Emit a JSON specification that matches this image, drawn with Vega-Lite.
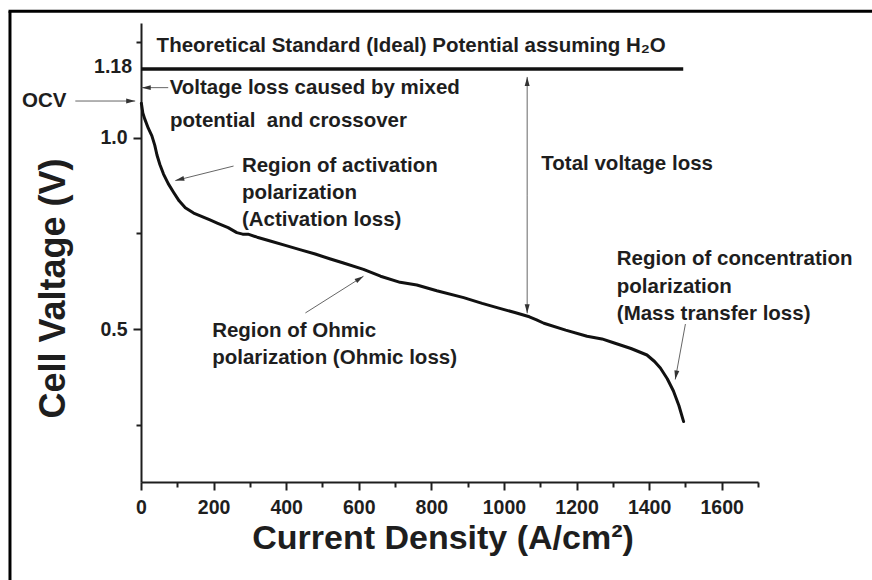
{
  "$schema": "https://vega.github.io/schema/vega-lite/v6.json",
  "width": 617,
  "height": 459,
  "autosize": {"type": "none"},
  "padding": {"left": 141, "top": 23, "right": 114, "bottom": 98},
  "background": "white",
  "config": {
    "view": {"stroke": null},
    "font": "Liberation Sans",
    "axis": {
      "grid": false,
      "domainColor": "#1e1e1e",
      "domainWidth": 2,
      "tickColor": "#1e1e1e",
      "tickWidth": 2,
      "labelFont": "Liberation Sans",
      "labelFontWeight": "bold",
      "labelColor": "#1e1e1e",
      "labelFontSize": 19.5,
      "titleFont": "Liberation Sans",
      "titleFontWeight": "bold",
      "titleColor": "#1e1e1e",
      "labelOverlap": false,
      "labelFlush": false
    }
  },
  "resolve": {"axis": {"x": "independent", "y": "independent"}},
  "datasets": {
    "curve": [
      {"j": 1, "v": 1.09}, {"j": 5, "v": 1.065}, {"j": 10, "v": 1.05}, {"j": 20, "v": 1.025},
      {"j": 30, "v": 1.005}, {"j": 38, "v": 0.98}, {"j": 44, "v": 0.955}, {"j": 52, "v": 0.93},
      {"j": 62, "v": 0.905}, {"j": 75, "v": 0.88}, {"j": 90, "v": 0.857}, {"j": 105, "v": 0.835},
      {"j": 122, "v": 0.817}, {"j": 145, "v": 0.803}, {"j": 165, "v": 0.795}, {"j": 190, "v": 0.785},
      {"j": 210, "v": 0.777}, {"j": 240, "v": 0.765}, {"j": 264, "v": 0.752}, {"j": 280, "v": 0.748},
      {"j": 295, "v": 0.748}, {"j": 320, "v": 0.74}, {"j": 356, "v": 0.73}, {"j": 400, "v": 0.718},
      {"j": 440, "v": 0.707}, {"j": 480, "v": 0.696}, {"j": 522, "v": 0.683}, {"j": 560, "v": 0.672},
      {"j": 613, "v": 0.656}, {"j": 660, "v": 0.638}, {"j": 714, "v": 0.622}, {"j": 760, "v": 0.615},
      {"j": 815, "v": 0.6}, {"j": 889, "v": 0.582}, {"j": 940, "v": 0.567}, {"j": 981, "v": 0.556},
      {"j": 1030, "v": 0.543}, {"j": 1070, "v": 0.532}, {"j": 1090, "v": 0.524}, {"j": 1110, "v": 0.515},
      {"j": 1170, "v": 0.497}, {"j": 1229, "v": 0.481}, {"j": 1270, "v": 0.474}, {"j": 1302, "v": 0.464},
      {"j": 1350, "v": 0.449}, {"j": 1394, "v": 0.432}, {"j": 1415, "v": 0.415}, {"j": 1431, "v": 0.398},
      {"j": 1450, "v": 0.37}, {"j": 1467, "v": 0.338}, {"j": 1482, "v": 0.3}, {"j": 1495, "v": 0.258}
    ],
    "arrows": [
      {"x": -181, "y": 1.096, "x2": -16, "y2": 1.096},
      {"x": 75, "y": 1.131, "x2": 2, "y2": 1.131},
      {"x": 255, "y": 0.926, "x2": 94.5, "y2": 0.888},
      {"x": 1064, "y": 0.85, "x2": 1064, "y2": 1.159},
      {"x": 1064, "y": 0.85, "x2": 1064, "y2": 0.541},
      {"x": 453, "y": 0.542, "x2": 613, "y2": 0.638},
      {"x": 1500, "y": 0.513, "x2": 1472, "y2": 0.368}
    ],
    "labels": [
      {"x": 43, "y": 1.24, "t": "Theoretical Standard (Ideal) Potential assuming H₂O"},
      {"x": 79, "y": 1.131, "t": "Voltage loss caused by mixed"},
      {"x": 80, "y": 1.044, "t": "potential\u00a0 and crossover"},
      {"x": -328, "y": 1.096, "t": "OCV"},
      {"x": 278, "y": 0.926, "t": "Region of activation"},
      {"x": 278, "y": 0.856, "t": "polarization"},
      {"x": 278, "y": 0.786, "t": "(Activation loss)"},
      {"x": 1103, "y": 0.931, "t": "Total voltage loss"},
      {"x": 196, "y": 0.494, "t": "Region of Ohmic"},
      {"x": 196, "y": 0.424, "t": "polarization (Ohmic loss)"},
      {"x": 1311, "y": 0.682, "t": "Region of concentration"},
      {"x": 1311, "y": 0.609, "t": "polarization"},
      {"x": 1311, "y": 0.538, "t": "(Mass transfer loss)"}
    ],
    "one": [{"k": 1}]
  },
  "layer": [
    {
      "data": {"name": "one"},
      "mark": {"type": "rule", "strokeWidth": 3, "color": "#000"},
      "encoding": {
        "x": {"datum": -361, "type": "quantitative", "scale": {"domain": [0, 1700], "nice": false, "zero": false}, "axis": null},
        "y": {"datum": 1.331, "type": "quantitative", "scale": {"domain": [0.1, 1.3], "nice": false, "zero": false}, "axis": null},
        "y2": {"datum": -0.4}
      }
    },
    {
      "data": {"name": "one"},
      "mark": {"type": "rule", "strokeWidth": 3, "color": "#000"},
      "encoding": {
        "x": {"datum": -365, "type": "quantitative", "scale": {"domain": [0, 1700], "nice": false, "zero": false}, "axis": null},
        "x2": {"datum": 2200},
        "y": {"datum": 1.331, "type": "quantitative", "scale": {"domain": [0.1, 1.3], "nice": false, "zero": false}, "axis": null}
      }
    },
    {
      "data": {"name": "curve"},
      "mark": {"type": "line", "strokeWidth": 3, "color": "#111", "strokeCap": "round", "strokeJoin": "round"},
      "encoding": {
        "x": {
          "field": "j", "type": "quantitative",
          "scale": {"domain": [0, 1700], "nice": false, "zero": false},
          "axis": {
            "title": "Current Density (A/cm²)",
            "values": [0, 100, 200, 300, 400, 500, 600, 700, 800, 900, 1000, 1100, 1200, 1300, 1400, 1500, 1600, 1700],
            "format": "d",
            "labelExpr": "datum.value % 200 === 0 && datum.value <= 1600 ? datum.label : ''",
            "tickSize": {"condition": {"test": "datum.value % 200 !== 0", "value": 5}, "value": 8},
            "labelPadding": 8,
            "titleFontSize": 34,
            "titleX": 301.5,
            "titleY": 66.6,
            "titleAlign": "center",
            "titleBaseline": "alphabetic"
          }
        },
        "y": {
          "field": "v", "type": "quantitative",
          "scale": {"domain": [0.1, 1.3], "nice": false, "zero": false},
          "axis": {
            "title": "Cell Valtage (V)",
            "values": [0.25, 0.5, 0.75, 1, 1.25],
            "labelExpr": "datum.value === 0.5 ? '0.5' : datum.value === 1 ? '1.0' : ''",
            "tickSize": {"condition": {"test": "datum.value === 0.5 || datum.value === 1", "value": 8}, "value": 5},
            "labelPadding": 6,
            "titleFontSize": 36,
            "titleAngle": -90,
            "titleX": -76.5,
            "titleY": 265,
            "titleAlign": "center",
            "titleBaseline": "alphabetic"
          }
        }
      }
    },
    {
      "data": {"name": "one"},
      "mark": {"type": "rule", "strokeWidth": 3.5, "color": "#111"},
      "encoding": {
        "x": {"datum": 0, "type": "quantitative", "scale": {"domain": [0, 1700], "nice": false, "zero": false}, "axis": null},
        "x2": {"datum": 1494},
        "y": {"datum": 1.18, "type": "quantitative", "scale": {"domain": [0.1, 1.3], "nice": false, "zero": false}, "axis": null}
      }
    },
    {
      "data": {"name": "arrows"},
      "mark": {"type": "rule", "strokeWidth": 1, "color": "#666"},
      "encoding": {
        "x": {"field": "x", "type": "quantitative", "scale": {"domain": [0, 1700], "nice": false, "zero": false}, "axis": null},
        "x2": {"field": "x2"},
        "y": {"field": "y", "type": "quantitative", "scale": {"domain": [0.1, 1.3], "nice": false, "zero": false}, "axis": null},
        "y2": {"field": "y2"}
      }
    },
    {
      "data": {"name": "arrows"},
      "mark": {"type": "point", "filled": true, "shape": "M0,0L-0.55,2L0.55,2Z", "size": 81, "color": "#333", "opacity": 1, "strokeWidth": 0},
      "encoding": {
        "x": {"field": "x2", "type": "quantitative", "scale": {"domain": [0, 1700], "nice": false, "zero": false}, "axis": null},
        "y": {"field": "y2", "type": "quantitative", "scale": {"domain": [0.1, 1.3], "nice": false, "zero": false}, "axis": null},
        "angle": {"value": {"expr": "atan2(scale('x', datum.x2) - scale('x', datum.x), scale('y', datum.y) - scale('y', datum.y2)) * 180 / PI"}}
      }
    },
    {
      "data": {"name": "labels"},
      "mark": {"type": "text", "align": "left", "baseline": "middle", "font": "Liberation Sans", "fontWeight": "bold", "fontSize": 20.5, "color": "#1e1e1e"},
      "encoding": {
        "x": {"field": "x", "type": "quantitative", "scale": {"domain": [0, 1700], "nice": false, "zero": false}, "axis": null},
        "y": {"field": "y", "type": "quantitative", "scale": {"domain": [0.1, 1.3], "nice": false, "zero": false}, "axis": null},
        "text": {"field": "t"}
      }
    },
    {
      "data": {"values": [{"x": 0, "y": 1.18, "t": "1.18"}]},
      "mark": {"type": "text", "align": "right", "baseline": "middle", "dx": -9, "dy": -2, "font": "Liberation Sans", "fontWeight": "bold", "fontSize": 19.5, "color": "#1e1e1e"},
      "encoding": {
        "x": {"field": "x", "type": "quantitative", "scale": {"domain": [0, 1700], "nice": false, "zero": false}, "axis": null},
        "y": {"field": "y", "type": "quantitative", "scale": {"domain": [0.1, 1.3], "nice": false, "zero": false}, "axis": null},
        "text": {"field": "t"}
      }
    }
  ]
}
